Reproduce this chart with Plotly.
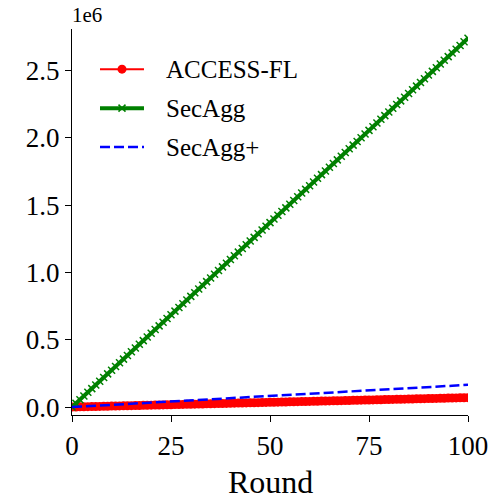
import plotly.graph_objects as go

rounds = list(range(0, 101))

access_fl = [0, 700, 1400, 2100, 2800, 3500, 4200, 4900, 5600, 6300, 7000,
             7700, 8400, 9100, 9800, 10500, 11200, 11900, 12600, 13300, 14000,
             14700, 15400, 16100, 16800, 17500, 18200, 18900, 19600, 20300, 21000,
             21700, 22400, 23100, 23800, 24500, 25200, 25900, 26600, 27300, 28000,
             28700, 29400, 30100, 30800, 31500, 32200, 32900, 33600, 34300, 35000,
             35700, 36400, 37100, 37800, 38500, 39200, 39900, 40600, 41300, 42000,
             42700, 43400, 44100, 44800, 45500, 46200, 46900, 47600, 48300, 49000,
             49700, 50400, 51100, 51800, 52500, 53200, 53900, 54600, 55300, 56000,
             56700, 57400, 58100, 58800, 59500, 60200, 60900, 61600, 62300, 63000,
             63700, 64400, 65100, 65800, 66500, 67200, 67900, 68600, 69300, 70000]

secagg = [0, 27400, 54800, 82200, 109600, 137000, 164400, 191800, 219200, 246600, 274000,
          301400, 328800, 356200, 383600, 411000, 438400, 465800, 493200, 520600, 548000,
          575400, 602800, 630200, 657600, 685000, 712400, 739800, 767200, 794600, 822000,
          849400, 876800, 904200, 931600, 959000, 986400, 1013800, 1041200, 1068600, 1096000,
          1123400, 1150800, 1178200, 1205600, 1233000, 1260400, 1287800, 1315200, 1342600, 1370000,
          1397400, 1424800, 1452200, 1479600, 1507000, 1534400, 1561800, 1589200, 1616600, 1644000,
          1671400, 1698800, 1726200, 1753600, 1781000, 1808400, 1835800, 1863200, 1890600, 1918000,
          1945400, 1972800, 2000200, 2027600, 2055000, 2082400, 2109800, 2137200, 2164600, 2192000,
          2219400, 2246800, 2274200, 2301600, 2329000, 2356400, 2383800, 2411200, 2438600, 2466000,
          2493400, 2520800, 2548200, 2575600, 2603000, 2630400, 2657800, 2685200, 2712600, 2740000]

secagg_plus = [0, 1650, 3300, 4950, 6600, 8250, 9900, 11550, 13200, 14850, 16500,
               18150, 19800, 21450, 23100, 24750, 26400, 28050, 29700, 31350, 33000,
               34650, 36300, 37950, 39600, 41250, 42900, 44550, 46200, 47850, 49500,
               51150, 52800, 54450, 56100, 57750, 59400, 61050, 62700, 64350, 66000,
               67650, 69300, 70950, 72600, 74250, 75900, 77550, 79200, 80850, 82500,
               84150, 85800, 87450, 89100, 90750, 92400, 94050, 95700, 97350, 99000,
               100650, 102300, 103950, 105600, 107250, 108900, 110550, 112200, 113850, 115500,
               117150, 118800, 120450, 122100, 123750, 125400, 127050, 128700, 130350, 132000,
               133650, 135300, 136950, 138600, 140250, 141900, 143550, 145200, 146850, 148500,
               150150, 151800, 153450, 155100, 156750, 158400, 160050, 161700, 163350, 165000]

x_ticks = [0, 25, 50, 75, 100]
y_ticks = [0, 500000, 1000000, 1500000, 2000000, 2500000]
y_tick_labels = ["0.0", "0.5", "1.0", "1.5", "2.0", "2.5"]

series_names = ["ACCESS-FL", "SecAgg", "SecAgg+"]

FONT = "Liberation Serif"

styles = [
    dict(mode="lines+markers", line=dict(color="red", width=2),
         marker=dict(symbol="circle", size=9, color="red")),
    dict(mode="lines+markers", line=dict(color="green", width=4),
         marker=dict(symbol="x-thin", size=7, color="green", line=dict(color="green", width=1.5))),
    dict(mode="lines", line=dict(color="blue", width=2.5, dash="10px,4px")),
]

fig = go.Figure()
for name, vals, st in zip(series_names, [access_fl, secagg, secagg_plus], styles):
    fig.add_trace(go.Scatter(x=rounds, y=vals, name=name, showlegend=False, **st))

# Manual legend (placed in an overlaid unit axis)
leg_rows = [0.896, 0.795, 0.694]
leg_x0, leg_x1, leg_text_x = 0.0707, 0.1818, 0.2399
annotations = []
for name, st, ry in zip(series_names, styles, leg_rows):
    fig.add_trace(go.Scatter(x=[leg_x0, leg_x1], y=[ry, ry], mode="lines",
                             line=st["line"], xaxis="x2", yaxis="y2",
                             showlegend=False, hoverinfo="skip"))
    if "marker" in st:
        fig.add_trace(go.Scatter(x=[(leg_x0 + leg_x1) / 2], y=[ry], mode="markers",
                                 marker=st["marker"], xaxis="x2", yaxis="y2",
                                 showlegend=False, hoverinfo="skip"))
    annotations.append(dict(text=name, xref="x2", yref="y2", x=leg_text_x, y=ry,
                            xanchor="left", yanchor="middle", showarrow=False, xshift=-3,
                            font=dict(family=FONT, size=25, color="black")))

annotations.append(dict(
    text="1e6", xref="paper", yref="paper", x=0, y=1, xanchor="left", yanchor="bottom",
    showarrow=False, font=dict(family=FONT, size=21, color="black"), xshift=-2,
))
annotations.append(dict(
    text="Round", xref="paper", yref="paper", x=0.5, y=-0.2228, xanchor="center", yanchor="bottom",
    showarrow=False, font=dict(family=FONT, size=32, color="black"), borderpad=0,
))

fig.update_layout(
    width=496, height=501,
    margin=dict(l=72, r=28, t=29, b=86, autoexpand=False),
    paper_bgcolor="white", plot_bgcolor="white",
    font=dict(family=FONT, size=26, color="black"),
    showlegend=False,
    xaxis=dict(
        range=[0, 100], tickvals=x_ticks, showgrid=False, zeroline=False,
        showline=True, linecolor="black", linewidth=1.2, automargin=False,
        ticks="outside", ticklen=6, tickwidth=1.2, tickcolor="black",
        tickfont=dict(family=FONT, size=27),
    ),
    yaxis=dict(
        range=[-59000, 2808000], tickvals=y_ticks, ticktext=y_tick_labels,
        showgrid=False, zeroline=False, automargin=False,
        showline=True, linecolor="black", linewidth=1.2,
        ticks="outside", ticklen=6, tickwidth=1.2, tickcolor="black",
        tickfont=dict(family=FONT, size=27),
    ),
    xaxis2=dict(overlaying="x", range=[0, 1], visible=False, fixedrange=True),
    yaxis2=dict(overlaying="y", range=[0, 1], visible=False, fixedrange=True),
    annotations=annotations,
)

fig.write_html(
    "out.html",
    config={"displayModeBar": False},
    post_script="document.body.style.margin='0';document.body.style.overflow='hidden';",
)
